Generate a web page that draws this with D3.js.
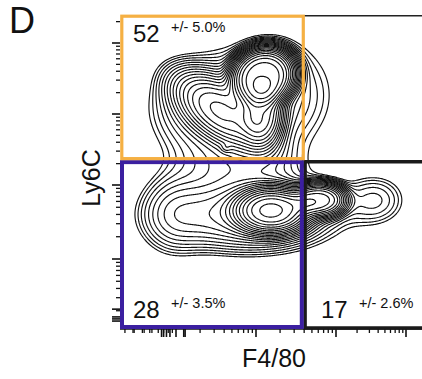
<!DOCTYPE html>
<html><head><meta charset="utf-8">
<script src="https://cdn.jsdelivr.net/npm/d3@7"></script>
<style>
body{margin:0;background:#fff}
svg{display:block}
text{font-family:"Liberation Sans",Arial,Helvetica,sans-serif;fill:#111}
</style>
</head><body>
<svg id="chart" width="422" height="379"></svg>
<script>
// ---------------- DATA ----------------
const panelLabel = "D";
const xTitle = "F4/80";
const yTitle = "Ly6C";
// decade anchors of the (logicle-like) axes
const xDecades = [10, 100, 1000, 10000];
const yDecades = [100, 1000, 10000, 100000];
// extra ticks in the compressed low region
const xExtraMinor = [2.3, 2.9, 3.8, 4.7, 200000];
const xExtraMajor = [6.6, 7.0, 7.6, 8.4, 12.5, 13.0];
const yExtraMajor = [21, 16.5, 15.5, 14.5];
// gate thresholds (F4/80, Ly6C)
const xGate = 390;
const yGate = 2240;
// gate labels
const gateNames = ["Ly6C hi", "Ly6C lo F4/80 lo", "Ly6C lo F4/80 hi"];
const gatePct = ["52", "28", "17"];
const gateErr = ["+/- 5.0%", "+/- 3.5%", "+/- 2.6%"];
// population density components (log10 F4/80, log10 Ly6C), shape exponent p
const compCX  = [2.09, 2.075, 1.575, 1.38, 2.24, 1.625,  2.20, 2.80, 1.90, 0.95, 3.56, 1.80];
const compCY  = [4.535, 4.03, 4.03, 4.06, 4.27, 3.52,    2.66, 2.80, 2.60, 2.60, 2.80, 3.27];
const compSX  = [0.29, 0.175, 0.375, 0.46, 0.50, 0.04,   0.30, 0.225, 0.65, 0.26, 0.31, 0.50];
const compSY  = [0.29, 0.31, 0.35, 0.45, 0.56, 0.04,     0.20, 0.15, 0.30, 0.35, 0.24, 0.25];
const compRho = [0.10, 0.0, -0.6, 0.0, 0.0, 0.0,         0.0, 0.0, 0.0, 0.0, 0.0, 0.0];
const compP   = [1.7, 1.3, 1.2, 1.0, 1.0, 1.0,           1.3, 1.3, 1.0, 1.0, 1.0, 1.0];
const compW   = [1.00, 0.40, 0.30, 0.08, 0.06, 0.03,     0.70, 0.45, 0.15, 0.05, 0.05, 0.04];
const contourLevels = 22;

// ---------------- LAYOUT ----------------
const svg = d3.select("#chart");
const L = 120, T = 15, B = 329, R = 440;
const x = d3.scaleLog().domain(xDecades).range([176, 256, 336, 406]);
const y = d3.scaleLog().domain(yDecades).range([259, 185, 114, 43]);

// ---------------- DENSITY ----------------
const W = R - L, H = B - T;
const vals = new Float64Array(W * H);
for (let j = 0; j < H; j++) {
  const v = Math.log10(y.invert(T + j + 0.5));
  for (let i = 0; i < W; i++) {
    const u = Math.log10(x.invert(L + i + 0.5));
    let s = 0;
    for (let k = 0; k < compW.length; k++) {
      const dx = (u - compCX[k]) / compSX[k];
      const dy = (v - compCY[k]) / compSY[k];
      const r = compRho[k];
      const q = (dx*dx - 2*r*dx*dy + dy*dy) / (1 - r*r);
      s += compW[k] * Math.exp(-0.5 * Math.pow(q, compP[k]));
    }
    vals[j * W + i] = s;
  }
}
const maxD = d3.max(vals);
const lo = 0.02, hi = 0.93;
const th = d3.range(contourLevels).map(i => maxD * lo * Math.pow(hi / lo, i / (contourLevels - 1)));
const contours = d3.contours().size([W, H]).thresholds(th)(vals);
svg.append("g")
  .attr("transform", `translate(${L},${T})`)
  .selectAll("path").data(contours).join("path")
  .attr("d", d3.geoPath())
  .attr("fill", "none")
  .attr("stroke", "#111")
  .attr("stroke-width", 1.15)
  .attr("stroke-linejoin", "round");

// ---------------- AXES ----------------
function decadeTicks(dec) {
  const out = [];
  const first = dec[0] / 10;
  for (let d = first; d <= dec[dec.length - 1] * 10; d *= 10) {
    for (let k = 2; k <= 9; k++) out.push(k * d);
  }
  return out;
}
const xMinor = decadeTicks(xDecades).concat(xExtraMinor)
  .filter(v => x(v) > L + 2 && x(v) <= 422);
const xMajor = xDecades.concat(xExtraMajor);
const yMinor = decadeTicks(yDecades).filter(v => y(v) > T + 2 && y(v) < B - 2);
const yMajor = yDecades.concat(yExtraMajor);

const axX = svg.append("g").attr("transform", `translate(0,${B})`);
axX.append("line").attr("x1", L).attr("x2", 422).attr("stroke", "#111").attr("stroke-width", 1.3);
axX.selectAll(".mi").data(xMinor).join("line")
  .attr("x1", d => x(d)).attr("x2", d => x(d)).attr("y1", 0).attr("y2", 4)
  .attr("stroke", "#111").attr("stroke-width", 1.3);
axX.selectAll(".ma").data(xMajor).join("line")
  .attr("x1", d => x(d)).attr("x2", d => x(d)).attr("y1", 0).attr("y2", 8)
  .attr("stroke", "#111").attr("stroke-width", 1.6);

const axY = svg.append("g").attr("transform", `translate(${L},0)`);
axY.selectAll(".mi").data(yMinor).join("line")
  .attr("y1", d => y(d)).attr("y2", d => y(d)).attr("x1", 0).attr("x2", -4)
  .attr("stroke", "#111").attr("stroke-width", 1.3);
axY.selectAll(".ma").data(yMajor).join("line")
  .attr("y1", d => y(d)).attr("y2", d => y(d)).attr("x1", 0).attr("x2", -8)
  .attr("stroke", "#111").attr("stroke-width", 1.6);

// ---------------- GATES ----------------
const gx = x(xGate), gy = y(yGate);
svg.append("line").attr("x1", gx).attr("x2", 422).attr("y1", T + 0.8).attr("y2", T + 0.8)
  .attr("stroke", "#222").attr("stroke-width", 1.6);
svg.append("path")
  .attr("d", `M${R},${gy + 1.5}H${gx + 1.8}V${B - 1}H${R}`)
  .attr("fill", "none").attr("stroke", "#1a1a1a").attr("stroke-width", 3.5);
svg.append("rect")
  .attr("x", L + 2).attr("y", gy + 2).attr("width", gx - L - 3.5).attr("height", B - gy - 4)
  .attr("fill", "none").attr("stroke", "#3b1fa0").attr("stroke-width", 4);
svg.append("rect")
  .attr("x", L + 1.8).attr("y", T + 1.2).attr("width", gx - L - 1.8).attr("height", gy - T - 2.7)
  .attr("fill", "none").attr("stroke", "#f5b043").attr("stroke-width", 3.2);

// ---------------- TEXT ----------------
const pctPos = [[133, 42], [133, 318], [321, 318]];
gatePct.forEach((p, i) => {
  svg.append("text").attr("x", pctPos[i][0]).attr("y", pctPos[i][1])
    .attr("font-size", 24).text(p);
  svg.append("text").attr("x", pctPos[i][0] + 38).attr("y", pctPos[i][1] - 10)
    .attr("font-size", 14.5).text(gateErr[i]);
});
svg.append("text").attr("x", 9).attr("y", 33).attr("font-size", 36).text(panelLabel);
svg.append("text").attr("x", 274).attr("y", 367).attr("text-anchor", "middle")
  .attr("font-size", 25).text(xTitle);
svg.append("text").attr("transform", "translate(100,178) rotate(-90)")
  .attr("text-anchor", "middle").attr("font-size", 25).text(yTitle);
</script>
</body></html>
